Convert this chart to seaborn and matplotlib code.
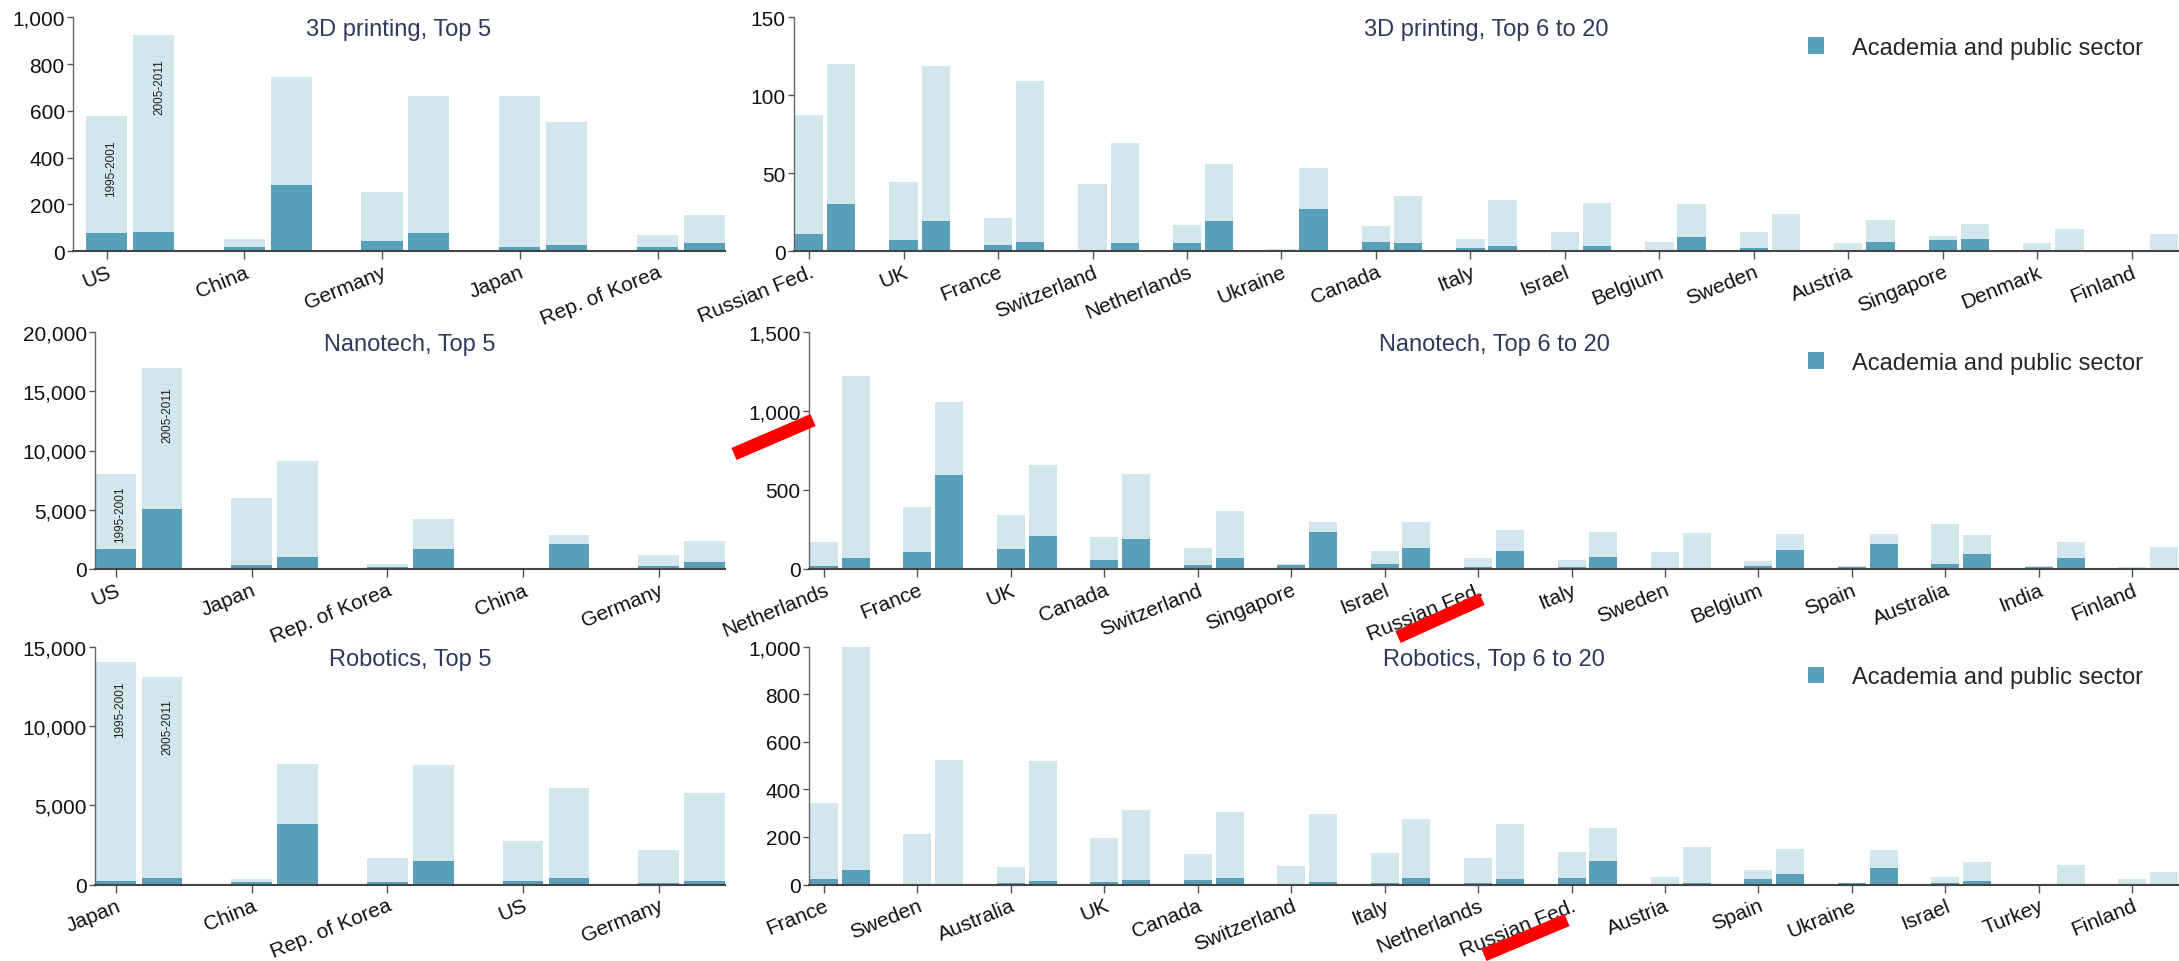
import numpy as np
import pandas as pd
import matplotlib
matplotlib.use("Agg")
import matplotlib.pyplot as plt
from matplotlib.ticker import FuncFormatter
from matplotlib.patches import Patch
from matplotlib.lines import Line2D
import seaborn as sns

# ---------------- data ----------------
periods = ["1995-2001", "2005-2011"]

p3d_top_countries = ["US", "China", "Germany", "Japan", "Rep. of Korea"]
p3d_top_total_a = [576, 50, 253, 664, 69]
p3d_top_total_b = [924, 744, 664, 550, 154]
p3d_top_acad_a = [79, 17, 43, 17, 17]
p3d_top_acad_b = [83, 284, 76, 27, 33]

p3d_rest_countries = ["Russian Fed.", "UK", "France", "Switzerland", "Netherlands", "Ukraine",
                      "Canada", "Italy", "Israel", "Belgium", "Sweden", "Austria", "Singapore",
                      "Denmark", "Finland"]
p3d_rest_total_a = [87, 44, 21, 43, 17, 1, 16, 7.6, 12, 5.5, 12.5, 5, 9.5, 5, 0]
p3d_rest_total_b = [120, 119, 109, 69, 56, 53, 35, 33, 31, 30, 24, 20, 17.6, 14, 10.6]
p3d_rest_acad_a = [10.6, 7, 4, 0, 5, 0, 6, 2, 0, 0, 2, 0, 7, 0, 0]
p3d_rest_acad_b = [30, 19, 5.5, 5, 19, 27, 5, 3, 3, 9, 0, 6, 8, 0, 0]

nano_top_countries = ["US", "Japan", "Rep. of Korea", "China", "Germany"]
nano_top_total_a = [7980, 5970, 400, 110, 1190]
nano_top_total_b = [16950, 9110, 4220, 2830, 2400]
nano_top_acad_a = [1700, 310, 170, 60, 230]
nano_top_acad_b = [5090, 1050, 1700, 2090, 570]

nano_rest_countries = ["Netherlands", "France", "UK", "Canada", "Switzerland", "Singapore",
                       "Israel", "Russian Fed.", "Italy", "Sweden", "Belgium", "Spain",
                       "Australia", "India", "Finland"]
nano_rest_total_a = [174, 394, 339, 203, 136, 34, 113, 67, 57, 105, 52, 19, 283, 19, 15]
nano_rest_total_b = [1219, 1056, 660, 601, 367, 295, 295, 249, 233, 226, 222, 220, 218, 174, 142]
nano_rest_acad_a = [17, 105, 126, 57, 23, 23, 31, 10, 10, 0, 19, 15, 29, 15, 8]
nano_rest_acad_b = [67, 595, 212, 191, 69, 237, 130, 115, 75, 0, 122, 159, 92, 69, 6]

robo_top_countries = ["Japan", "China", "Rep. of Korea", "US", "Germany"]
robo_top_total_a = [14050, 360, 1690, 2720, 2150]
robo_top_total_b = [13060, 7570, 7530, 6080, 5780]
robo_top_acad_a = [250, 150, 130, 190, 85]
robo_top_acad_b = [440, 3840, 1500, 380, 210]

robo_rest_countries = ["France", "Sweden", "Australia", "UK", "Canada", "Switzerland", "Italy",
                       "Netherlands", "Russian Fed.", "Austria", "Spain", "Ukraine", "Israel",
                       "Turkey", "Finland"]
robo_rest_total_a = [341, 213, 75, 195, 127, 78, 134, 111, 136, 31, 63, 7, 31, 3, 22]
robo_rest_total_b = [1000, 522, 519, 311, 306, 298, 276, 253, 237, 157, 149, 146, 96, 82, 53]
robo_rest_acad_a = [22, 0, 5, 11, 21, 4, 6, 7, 26, 0, 22, 5, 5, 0, 0]
robo_rest_acad_b = [61, 0, 13, 17, 28, 11, 28, 25, 97, 5, 46, 71, 13, 0, 0]

titles = [["3D printing, Top 5", "3D printing, Top 6 to 20"],
          ["Nanotech, Top 5", "Nanotech, Top 6 to 20"],
          ["Robotics, Top 5", "Robotics, Top 6 to 20"]]
yticks = [[[0, 200, 400, 600, 800, 1000], [0, 50, 100, 150]],
          [[0, 5000, 10000, 15000, 20000], [0, 500, 1000, 1500]],
          [[0, 5000, 10000, 15000], [0, 200, 400, 600, 800, 1000]]]
legend_label = "Academia and public sector"

panels = [
    [(p3d_top_countries, p3d_top_total_a, p3d_top_total_b, p3d_top_acad_a, p3d_top_acad_b),
     (p3d_rest_countries, p3d_rest_total_a, p3d_rest_total_b, p3d_rest_acad_a, p3d_rest_acad_b)],
    [(nano_top_countries, nano_top_total_a, nano_top_total_b, nano_top_acad_a, nano_top_acad_b),
     (nano_rest_countries, nano_rest_total_a, nano_rest_total_b, nano_rest_acad_a, nano_rest_acad_b)],
    [(robo_top_countries, robo_top_total_a, robo_top_total_b, robo_top_acad_a, robo_top_acad_b),
     (robo_rest_countries, robo_rest_total_a, robo_rest_total_b, robo_rest_acad_a, robo_rest_acad_b)],
]
# period-label y positions (data units) for the Top 5 panels
period_label_y = [[355, 706], [4640, 13080], [11060, 9990]]

# ---------------- style ----------------
sns.set_theme(style="ticks")
plt.rcParams["font.family"] = ["Liberation Sans", "DejaVu Sans"]

LIGHT = "#d2e6ed"
DARK = "#5a9fb8"
TITLE_C = "#2d3a5c"
AX_C = "#555555"

W, H = 2179, 962
fig = plt.figure(figsize=(W / 100, H / 100), dpi=100)

# axes boxes in pixels: (left, right, top, bottom)
boxes = [
    [(73, 725, 18.3, 252), (794, 2179, 18.3, 252)],
    [(95, 725, 333, 570), (809, 2179, 333, 570)],
    [(95, 725, 647.5, 885.5), (809, 2179, 647.5, 885.5)],
]
xlims = [[(-0.414, 4.32), (-0.33, 14.33)],
         [(-0.325, 4.32), (-0.33, 14.33)],
         [(-0.325, 4.32), (-0.33, 14.33)]]

fmt = FuncFormatter(lambda v, p: f"{v:,.0f}")

for r in range(3):
    for c in range(2):
        l, rt, t, b = boxes[r][c]
        ax = fig.add_axes([l / W, 1 - b / H, (rt - l) / W, (b - t) / H])
        countries, ta, tb, aa, ab = panels[r][c]
        df = pd.DataFrame({
            "country": countries * 2,
            "period": [periods[0]] * len(countries) + [periods[1]] * len(countries),
            "total": list(ta) + list(tb),
            "acad": list(aa) + list(ab),
        })
        sns.barplot(data=df, x="country", y="total", hue="period", order=countries,
                    hue_order=periods, palette={periods[0]: LIGHT, periods[1]: LIGHT},
                    width=0.68, gap=0.12, saturation=1, errorbar=None, linewidth=0,
                    legend=False, ax=ax)
        sns.barplot(data=df, x="country", y="acad", hue="period", order=countries,
                    hue_order=periods, palette={periods[0]: DARK, periods[1]: DARK},
                    width=0.68, gap=0.12, saturation=1, errorbar=None, linewidth=0,
                    legend=False, ax=ax)
        n = len(countries)
        ax.set_xticks(np.arange(n) - 0.17)
        ax.set_xticklabels(countries, rotation=22, ha="right", rotation_mode="anchor",
                           fontsize=15, color="#111111")
        ax.set_xlim(*xlims[r][c])
        yt = yticks[r][c]
        ax.set_yticks(yt)
        ax.set_ylim(0, yt[-1])
        ax.yaxis.set_major_formatter(fmt)
        ax.tick_params(axis="y", labelsize=15, length=4, width=1, color=AX_C, pad=2,
                       labelcolor="#111111")
        ax.tick_params(axis="x", length=6, width=1, color=AX_C, pad=2)
        ax.set_xlabel("")
        ax.set_ylabel("")
        for s in ["top", "right"]:
            ax.spines[s].set_visible(False)
        ax.spines["left"].set_color("#666666")
        ax.spines["left"].set_linewidth(1.0)
        ax.spines["bottom"].set_color("#444444")
        ax.spines["bottom"].set_linewidth(1.5)
        ax.text(0.5, 0.948, titles[r][c], transform=ax.transAxes, ha="center",
                va="center", fontsize=17, color=TITLE_C)
        if c == 0:
            for k, p in enumerate(periods):
                ax.text(-0.17 + 0.03 + 0.35 * k, period_label_y[r][k], p, rotation=90,
                        ha="center", va="center", fontsize=8.5, color="#222222")
        else:
            ax.legend(handles=[Patch(facecolor=DARK, edgecolor="none")],
                      labels=[legend_label], loc="center right",
                      bbox_to_anchor=(0.974, 0.87), frameon=False, fontsize=17,
                      handlelength=0.68, handleheight=0.68, handletextpad=1.2,
                      borderpad=0, borderaxespad=0)

# red highlight strokes present in the reference
for (x1, y1, x2, y2) in [(734, 455, 813, 421), (1398, 638, 1482, 600), (1484, 956, 1567, 921)]:
    fig.add_artist(Line2D([x1 / W, x2 / W], [1 - y1 / H, 1 - y2 / H],
                          transform=fig.transFigure, color="#ff0000", lw=9.4,
                          solid_capstyle="butt"))

fig.savefig("out.png", dpi=100)
